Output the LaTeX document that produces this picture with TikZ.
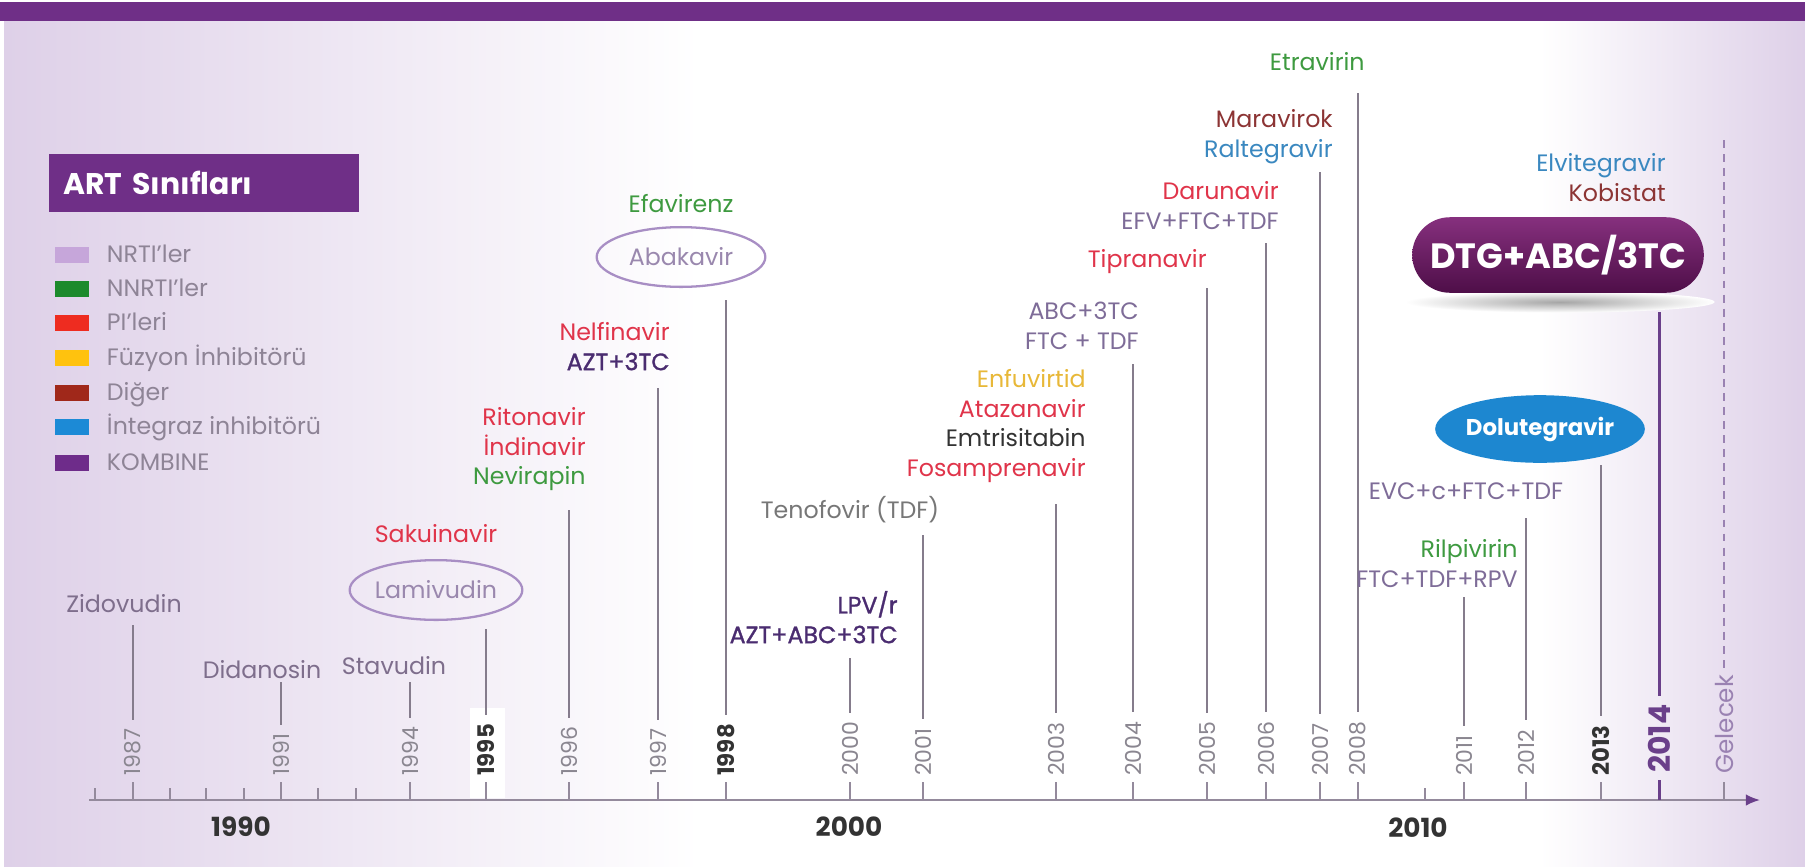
\documentclass[tikz,border=0pt]{standalone}
\usepackage{fontspec}
\setmainfont{Poppins}
\newfontfamily\semibold[FakeBold=1.2]{Poppins}
\usepackage{tikz}
\usepackage{xcolor}
\usetikzlibrary{positioning,shapes.geometric,arrows.meta}

\definecolor{art-purple}{HTML}{6F2F87}
\definecolor{bg-lav}{HTML}{DED0E8}
\definecolor{col-nrti}{HTML}{C6A6DA}
\definecolor{col-nnrti}{HTML}{1C8A2C}
\definecolor{col-pi}{HTML}{EE2C20}
\definecolor{col-fi}{HTML}{FFC20E}
\definecolor{col-other}{HTML}{A0281A}
\definecolor{col-ini}{HTML}{1C8AD6}
\definecolor{col-comb}{HTML}{6E2C8A}
\definecolor{tx-legend}{HTML}{8E8496}
\definecolor{tx-nrti}{HTML}{7E6E8C}
\definecolor{tx-gray}{HTML}{777777}
\definecolor{tx-dark}{HTML}{333333}
\definecolor{tx-pi}{HTML}{E0344A}
\definecolor{tx-nnrti}{HTML}{3E9A40}
\definecolor{tx-fi}{HTML}{E8B838}
\definecolor{tx-other}{HTML}{8C3434}
\definecolor{tx-ini}{HTML}{3A88C0}
\definecolor{tx-comb}{HTML}{7E6C98}
\definecolor{tx-comb-dark}{HTML}{4A2C70}
\definecolor{ring-purple}{HTML}{A88EC4}
\definecolor{tx-ring}{HTML}{9A88AE}
\definecolor{stem-gray}{HTML}{857C8C}
\definecolor{axis-gray}{HTML}{948A9C}
\definecolor{year-gray}{HTML}{8A8690}
\definecolor{year-dark}{HTML}{333333}
\definecolor{year-next}{HTML}{9A82B2}
\definecolor{now-purple}{HTML}{6A3F8A}
\definecolor{pill-top}{HTML}{86307E}
\definecolor{pill-bottom}{HTML}{4E0E48}
\definecolor{disc-blue}{HTML}{1D87D0}

\begin{document}
\begin{tikzpicture}
[
x=0.02cm, y=-0.02cm,
text-a/.style={inner sep=0pt, text height=12.5pt, text depth=4pt, font=\fontsize{13.5}{16}\selectfont},
text-b/.style={text-a, text=tx-comb-dark, font=\semibold\fontsize{13.5}{16}\selectfont},
year-a/.style={rotate=90, anchor=west, inner sep=0pt, text=year-gray, font=\fontsize{12.5}{15}\selectfont},
year-b/.style={year-a, text=year-dark, font=\bfseries\fontsize{13}{16}\selectfont},
dec-a/.style={inner sep=0pt, text=year-dark, font=\bfseries\fontsize{15}{18}\selectfont},
stem-a/.style={draw=stem-gray, line width=0.8pt, shorten >=5pt},
tick-a/.style={draw=axis-gray, line width=0.8pt},
ring-a/.style={ellipse, draw=ring-purple, line width=1.3pt, minimum width=96pt, minimum height=34pt, inner sep=0pt, text=tx-ring, font=\fontsize{13.5}{16}\selectfont},
disc-a/.style={ellipse, fill=disc-blue, minimum width=110pt, minimum height=38.5pt, inner sep=0pt, text=white, font=\bfseries\fontsize{13}{16}\selectfont},
pill-a/.style={rounded corners=21.5pt, top color=pill-top, bottom color=pill-bottom, minimum width=166pt, minimum height=43pt, inner sep=0pt, text=white, font=\bfseries\fontsize{20}{24}\selectfont},
title-a/.style={fill=art-purple, text=white, text width=160pt, align=left, inner xsep=8pt, inner ysep=0pt, minimum height=32.5pt, font=\bfseries\fontsize{17}{20}\selectfont},
swatch-a/.style={minimum width=19pt, minimum height=9.5pt, inner sep=0pt}
]

\useasboundingbox (0,0) rectangle (1805,866);

% background
\fill [white] (0,0) rectangle (1805,866);
\shade [left color=bg-lav, right color=white] (4,21) rectangle (700,866);
\shade [left color=white, right color=bg-lav] (1540,21) rectangle (1805,866);
\fill [art-purple] (0,2) rectangle (1805,21);

% legend
\node (leg-title) [title-a, anchor=west] at (49,183) {ART Sınıfları};
\foreach \y/\name/\col [count=\i] in {255/NRTI'ler/col-nrti, 289/NNRTI'ler/col-nnrti, 323/PI'leri/col-pi, 358/Füzyon İnhibitörü/col-fi, 393/Diğer/col-other, 427/İntegraz inhibitörü/col-ini, 463/KOMBINE/col-comb}
{
  \node (leg-box-\i)  [swatch-a, fill=\col] at (72,\y) {};
  \node (leg-text-\i) [text-a, text=tx-legend, right = 10pt of leg-box-\i] {\name};
}

% axis
\coordinate (axis-start) at (89,800);
\coordinate (axis-end)   at (1760,800);
\draw [axis-gray, line width=1.1pt, -{Latex[length=8pt, width=6.5pt, color=now-purple]}] (axis-start) -- (axis-end);
\foreach \x in {95,170,206,244,318,356,1425}
  \draw [tick-a] (\x,788) -- (\x,800);
\node (dec-1990) [dec-a] at (241,827)  {1990};
\node (dec-2000) [dec-a] at (849,827)  {2000};
\node (dec-2010) [dec-a] at (1418,828) {2010};

% years and stems
\foreach \x/\t/\yr in {133/625/1987, 281/682/1991, 410/682/1994, 569/510/1996, 658/388/1997, 850/658/2000, 923/535/2001, 1056/504/2003, 1133/364/2004, 1207/288/2005, 1266/243/2006, 1320/172/2007, 1358/93/2008, 1464/597/2011, 1526/518/2012}
{
  \node (yr-\yr) [year-a] at (\x,776) {\yr};
  \coordinate (top-\yr) at (\x,\t);
  \draw [stem-a] (top-\yr) -- (yr-\yr);
  \draw [tick-a] (\x,782) -- (\x,800);
}
\fill [white] (470,708) rectangle (505,798);
\foreach \x/\t/\yr in {486/629/1995, 726/300/1998, 1601/465/2013}
{
  \node (yr-\yr) [year-b] at (\x,776) {\yr};
  \coordinate (top-\yr) at (\x,\t);
  \draw [stem-a] (top-\yr) -- (yr-\yr);
  \draw [tick-a] (\x,782) -- (\x,800);
}
\node (yr-2014) [year-a, text=now-purple, font=\bfseries\fontsize{17}{20}\selectfont] at (1659,773) {2014};
\coordinate (top-2014) at (1659,312);
\draw [stem-a, draw=now-purple, line width=1.7pt] (top-2014) -- (yr-2014);
\draw [now-purple, line width=1.7pt] (1659,780) -- (1659,800);
\node (yr-next) [year-a, text=year-next, font=\fontsize{14}{16}\selectfont] at (1724,774) {Gelecek};
\coordinate (top-next) at (1724,140);
\draw [year-next, line width=0.8pt, dash pattern=on 4.5pt off 3.5pt, shorten >=2pt] (top-next) -- (yr-next);
\draw [tick-a] (1724,782) -- (1724,800);

% 1987 - 1995
\node (zidovudin)  [text-a, text=tx-nrti]           at (124,605) {Zidovudin};
\node (didanosin)  [text-a, text=tx-nrti]           at (262,671) {Didanosin};
\node (stavudin)   [text-a, text=tx-nrti]           at (394,667) {Stavudin};
\node (lamivudin)  [ring-a]                         at (436,590) {Lamivudin};
\node (sakuinavir) [text-a, text=tx-pi, above = 5pt of lamivudin] {Sakuinavir};

% 1996 - 1998
\node (ritonavir)  [text-a, text=tx-pi, anchor=east] at (586,418) {Ritonavir};
\node (indinavir)  [text-a, text=tx-pi,    below left = 0pt and 0pt of ritonavir.south east] {İndinavir};
\node (nevirapin)  [text-a, text=tx-nnrti, below left = 0pt and 0pt of indinavir.south east] {Nevirapin};
\node (nelfinavir) [text-a, text=tx-pi, anchor=east] at (670,333) {Nelfinavir};
\node (azt-3tc)    [text-b, below left = 0pt and 0pt of nelfinavir.south east] {AZT+3TC};
\node (abakavir)   [ring-a]                          at (681,257) {Abakavir};
\node (efavirenz)  [text-a, text=tx-nnrti, above = 3.5pt of abakavir] {Efavirenz};

% 2000 - 2004
\node (lpv-r)         [text-b, anchor=east]                    at (898,606) {LPV/r};
\node (azt-abc-3tc)   [text-b, below left = 0pt and 0pt of lpv-r.south east] {AZT+ABC+3TC};
\node (tenofovir)     [text-a, text=tx-gray]                   at (850,511) {Tenofovir (TDF)};
\node (enfuvirtid)    [text-a, text=tx-fi, anchor=east]        at (1086,380) {Enfuvirtid};
\node (atazanavir)    [text-a, text=tx-pi,   below left = 0pt and 0pt of enfuvirtid.south east] {Atazanavir};
\node (emtrisitabin)  [text-a, text=tx-dark, below left = 0pt and 0pt of atazanavir.south east] {Emtrisitabin};
\node (fosamprenavir) [text-a, text=tx-pi,   below left = 0pt and 0pt of emtrisitabin.south east] {Fosamprenavir};
\node (abc-3tc)       [text-a, text=tx-comb, anchor=east]      at (1139,312) {ABC+3TC};
\node (ftc-tdf)       [text-a, text=tx-comb, below left = 0pt and 0pt of abc-3tc.south east] {FTC + TDF};

% 2005 - 2008
\node (tipranavir)  [text-a, text=tx-pi, anchor=east]    at (1207,260) {Tipranavir};
\node (darunavir)   [text-a, text=tx-pi, anchor=east]    at (1279,192) {Darunavir};
\node (efv-ftc-tdf) [text-a, text=tx-comb, below left = 0pt and 0pt of darunavir.south east] {EFV+FTC+TDF};
\node (maravirok)   [text-a, text=tx-other, anchor=east] at (1333,120) {Maravirok};
\node (raltegravir) [text-a, text=tx-ini, below left = 0pt and 0pt of maravirok.south east] {Raltegravir};
\node (etravirin)   [text-a, text=tx-nnrti, anchor=east] at (1365,63) {Etravirin};

% 2011 - 2014
\node (rilpivirin)    [text-a, text=tx-nnrti, anchor=east] at (1518,550) {Rilpivirin};
\node (ftc-tdf-rpv)   [text-a, text=tx-comb, below left = 0pt and 0pt of rilpivirin.south east] {FTC+TDF+RPV};
\node (evc-c-ftc-tdf) [text-a, text=tx-comb]               at (1466,492) {EVC+c+FTC+TDF};
\node (dolutegravir)  [disc-a]                             at (1540,429) {Dolutegravir};
\shade [inner color=black!35, outer color=white] (1560,302) ellipse [x radius=88pt, y radius=6pt];
\node (dtg-abc-3tc)   [pill-a]                             at (1558,255) {DTG+ABC/3TC};
\node (kobistat)      [text-a, text=tx-other, anchor=east] at (1666,194) {Kobistat};
\node (elvitegravir)  [text-a, text=tx-ini, above left = 0pt and 0pt of kobistat.north east] {Elvitegravir};

\end{tikzpicture}
\end{document}
